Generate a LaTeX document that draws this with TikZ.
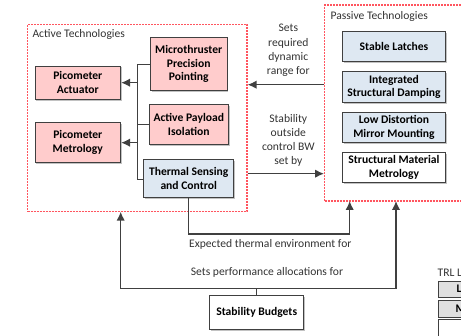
\documentclass[tikz,border=0pt]{standalone}
\usepackage{fontspec}
\setmainfont{Carlito}
\usetikzlibrary{arrows.meta,shadows}
\definecolor{pinkfill}{RGB}{255,204,204}
\definecolor{bluefill}{RGB}{222,232,242}
\definecolor{framered}{RGB}{255,85,95}
\definecolor{linegray}{RGB}{64,64,64}
\definecolor{legendgray}{RGB}{224,224,224}
\tikzset{
  box/.style={draw=linegray, line width=0.9pt, align=center, font=\fontsize{11.6}{13.6}\selectfont\bfseries,
    inner sep=1pt, drop shadow={shadow xshift=1.3pt, shadow yshift=-1.3pt, fill=black!40, opacity=0.6}},
  pinkbox/.style={box, fill=pinkfill},
  bluebox/.style={box, fill=bluefill},
  whitebox/.style={box, fill=white},
  frame/.style={draw=framered, line width=1.3pt, dash pattern=on 2pt off 1pt},
  conn/.style={draw=linegray, line width=1.4pt},
  arr/.style={conn, -{Latex[length=9pt,width=8.5pt]}},
  lbl/.style={font=\fontsize{11.6}{14.2}\selectfont, text=black!80, align=center},
}
\begin{document}
\begin{tikzpicture}[x=1pt,y=-1pt]
\useasboundingbox (0,0) rectangle (461,336);
\clip (0,0) rectangle (461,336);
% frames
\node[frame, minimum width=219.3pt, minimum height=187.4pt, inner sep=0pt] (active) at (137.35,118) {};
\node[frame, minimum width=150pt, minimum height=196pt, inner sep=0pt] (passive) at (399.7,103) {};
\node[lbl, anchor=base west] (activelbl) at (29,38) {Active Technologies};
\node[lbl, anchor=base west] (passivelbl) at (327,19.5) {Passive Technologies};
% active boxes
\node[pinkbox, minimum width=85.7pt, minimum height=33.3pt] (act) at (77.8,82.7) {Picometer\\Actuator};
\node[pinkbox, minimum width=85.7pt, minimum height=40pt] (met) at (77.8,142.7) {Picometer\\Metrology};
\node[pinkbox, minimum width=76.7pt, minimum height=53.3pt] (micro) at (188.7,64.3) {Microthruster\\Precision\\Pointing};
\node[pinkbox, minimum width=79.7pt, minimum height=40pt] (api) at (188.8,124.3) {Active Payload\\Isolation};
\node[bluebox, minimum width=90pt, minimum height=38pt] (thermal) at (188.7,178.3) {Thermal Sensing\\and Control};
% passive boxes
\node[bluebox, minimum width=102.6pt, minimum height=30pt] (latch) at (394,46.7) {Stable Latches};
\node[bluebox, minimum width=102.6pt, minimum height=30.6pt] (damp) at (394,87) {Integrated\\Structural Damping};
\node[bluebox, minimum width=102.6pt, minimum height=30pt] (mirror) at (394,127.7) {Low Distortion\\Mirror Mounting};
\node[whitebox, minimum width=102.6pt, minimum height=30pt] (smm) at (394,167.7) {Structural Material\\Metrology};
% budgets
\node[whitebox, minimum width=94pt, minimum height=34pt] (budget) at (256.7,312.3) {Stability Budgets};
% bus
\coordinate (busT) at (137.7,64.3);
\coordinate (busB) at (137.7,179.3);
\draw[conn] (micro.west) -- (busT) -- (busB) -- (busB -| thermal.west);
\draw[conn] (api.west) -- (api.west -| busT);
\draw[arr] (busT |- act.east) -- (act.east);
\draw[arr] (busT |- met.east) -- (met.east);
% between frames
\draw[arr] (passive.west |- 0,84.7) -- (active.east |- 0,84.7);
\draw[arr] (active.east |- 0,173.7) -- (passive.west |- 0,173.7);
\node[lbl] (l1) at (288.3,50.5) {Sets\\required\\dynamic\\range for};
\node[lbl] (l2) at (288.3,140.5) {Stability\\outside\\control BW\\set by};
% thermal to passive
\coordinate (pb1) at (349.7,201);
\coordinate (pb2) at (396,201);
\coordinate (ab) at (120.7,211.7);
\draw[arr] (thermal.south) |- (pb1 |- 0,234) -- (pb1);
\node[lbl] (l3) at (270.3,244.5) {Expected thermal environment for};
% budgets
\coordinate (bj) at (256.7,288.3);
\draw[conn] (budget.north) -- (bj);
\draw[arr] (bj) -| (ab);
\draw[arr] (bj) -| (pb2);
\node[lbl] (l4) at (267,272.5) {Sets performance allocations for};
% legend (partially visible)
\node[lbl, anchor=base west, inner sep=0pt] (trl) at (437.5,277) {TRL L};
\node[draw=linegray, fill=legendgray, line width=0.6pt, minimum width=40pt, minimum height=16.3pt, anchor=north west, inner sep=0pt] (lg1) at (437.7,281) {};
\node[draw=linegray, fill=legendgray, line width=0.6pt, minimum width=40pt, minimum height=17.3pt, anchor=north west, inner sep=0pt] (lg2) at (437.7,300) {};
\node[draw=linegray, fill=white, line width=0.6pt, minimum width=40pt, minimum height=30pt, anchor=north west, inner sep=0pt] (lg3) at (437.7,319.3) {};
\node[font=\fontsize{11.6}{13}\selectfont\bfseries, anchor=west, inner sep=0pt] (lgl) at (456.5,289.2) {L};
\node[font=\fontsize{11.6}{13}\selectfont\bfseries, anchor=west, inner sep=0pt] (lgm) at (455.5,308.7) {M};
\end{tikzpicture}
\end{document}
